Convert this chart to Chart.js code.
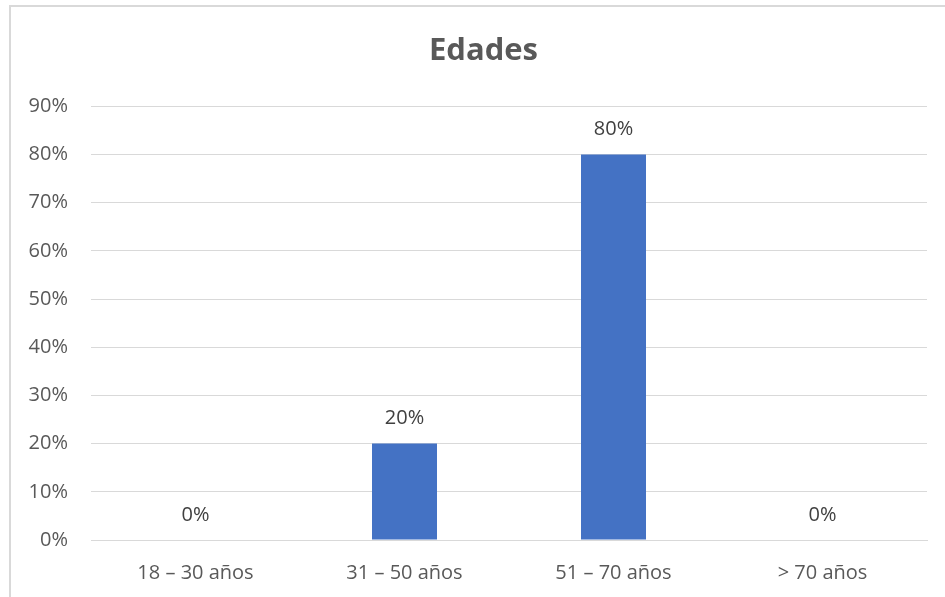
<!DOCTYPE html>
<html>
<head>
<meta charset="utf-8">
<script src="https://cdn.jsdelivr.net/npm/chart.js@4"></script>
<style>
  html, body { margin: 0; padding: 0; background: #fff; overflow: hidden; }
  #wrap { position: relative; width: 945px; height: 597px; }
  #frame {
    position: absolute; left: 9px; top: 5px; width: 1000px; height: 1000px;
    border: 2px solid #d9d9d9; pointer-events: none;
  }
  canvas { position: absolute; left: 0; top: 0; }
</style>
</head>
<body>
<div id="wrap">
  <canvas id="myChart" width="945" height="597"></canvas>
  <div id="frame"></div>
</div>
<script>
// Datos del gráfico
const categorias = ['18 – 30 años', '31 – 50 años', '51 – 70 años', '> 70 años'];
const valores = [0, 20, 80, 0];
const ticksY = [0, 10, 20, 30, 40, 50, 60, 70, 80, 90];

const fuente = "'Open Sans', 'Noto Sans', sans-serif";

// Etiquetas de datos encima de cada barra
const etiquetasPlugin = {
  id: 'etiquetas',
  afterLayout(chart) {
    // centrar el título como en Excel (sobre el marco, no sobre todo el lienzo)
    if (chart.titleBlock) chart.titleBlock.left = 40;
  },
  afterDatasetsDraw(chart) {
    const ctx = chart.ctx;
    const meta = chart.getDatasetMeta(0);
    ctx.save();
    ctx.font = '20px ' + fuente;
    ctx.fillStyle = '#404040';
    ctx.textAlign = 'center';
    ctx.textBaseline = 'middle';
    meta.data.forEach(function (bar, i) {
      ctx.fillText(valores[i] + '%', bar.x, bar.y - 25);
    });
    ctx.restore();
  }
};

const ctx = document.getElementById('myChart').getContext('2d');
new Chart(ctx, {
  type: 'bar',
  data: {
    labels: categorias,
    datasets: [{
      data: valores,
      backgroundColor: '#4472C4',
      barPercentage: 0.311,
      categoryPercentage: 1
    }]
  },
  options: {
    responsive: false,
    animation: false,
    layout: { padding: { left: 0, right: 18, top: 0, bottom: 0 } },
    plugins: {
      legend: { display: false },
      tooltip: { enabled: false },
      title: {
        display: true,
        text: 'Edades',
        color: '#595959',
        font: { family: fuente, size: 31, weight: 'bold' },
        padding: { top: 33, bottom: 36 }
      }
    },
    scales: {
      x: {
        grid: { display: false },
        border: { display: true, color: '#d9d9d9', width: 1 },
        ticks: {
          color: '#595959',
          font: { family: fuente, size: 20 },
          padding: 13,
          maxRotation: 0
        },
        afterFit(scale) { scale.height = 57; }
      },
      y: {
        min: 0,
        max: 90,
        afterBuildTicks(scale) { scale.ticks = ticksY.map(v => ({ value: v })); },
        grid: { color: '#d9d9d9', lineWidth: 1, drawTicks: false },
        border: { display: false },
        ticks: {
          color: '#595959',
          font: { family: fuente, size: 20 },
          padding: 23,
          callback: v => v + '%'
        },
        afterFit(scale) { scale.width = 91; }
      }
    }
  },
  plugins: [etiquetasPlugin]
});
</script>
</body>
</html>
